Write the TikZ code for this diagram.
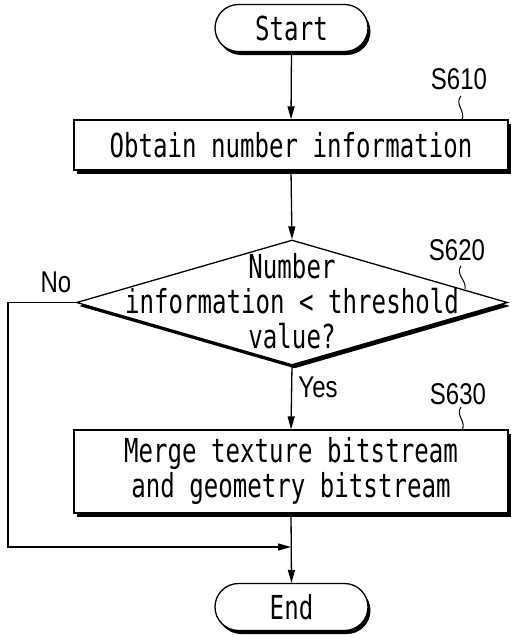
\documentclass[tikz,border=0pt]{standalone}
\usepackage{fontspec}
\newfontfamily\pfont[FakeStretch=0.73]{DejaVu Sans Mono}
\newfontfamily\lfont[FakeStretch=0.8]{Liberation Sans}
\usetikzlibrary{arrows.meta,shapes.geometric,shapes.misc,shadows}
\begin{document}
\begin{tikzpicture}[x=1pt,y=-1pt,
  line width=1.3pt,
  shadowed/.style={drop shadow={opacity=1,fill=black,shadow xshift=2.5pt,shadow yshift=-3.5pt}},
  txt/.style={font=\pfont\fontsize{33}{35}\selectfont, align=center},
  term/.style={rounded rectangle, draw, fill=white, shadowed, minimum width=153pt, minimum height=47pt, inner sep=0pt, txt},
  proc/.style={rectangle, draw, fill=white, shadowed, minimum width=434pt, inner sep=0pt, txt},
  dec/.style={diamond, draw, fill=white, shadowed, minimum width=431pt, minimum height=125pt, inner sep=0pt},
  lbl/.style={font=\lfont\fontsize{30}{32}\selectfont, inner sep=0pt},
  arr/.style={-{Triangle[length=13pt,width=7pt]}},
  sq/.style={line width=1pt},
]
\useasboundingbox (0,0) rectangle (511,637);

\node[term] (start) at (291.5,28) {Start};
\node[proc, minimum height=50pt] (p1) at (291,145) {Obtain number information};
\node[dec] (d) at (292,302.5) {};
\node[txt, inner sep=0pt] (dt) at (292,301) {Number\\information < threshold\\value?};
\node[proc, minimum height=83pt] (p2) at (291,471.5) {Merge texture bitstream\\and geometry bitstream};
\node[term] (end) at (291.5,607) {End};

\node[lbl] (s610) at (459,79) {S610};
\node[lbl] (s620) at (457,250) {S620};
\node[lbl] (s630) at (458,394) {S630};
\node[lbl] (no) at (56,282) {No};
\node[lbl] (yes) at (318,387) {Yes};

\coordinate (j) at (291,547);
\coordinate (c) at (8,547);

\draw[arr] (start.south) -- (p1.north);
\draw[arr] (p1.south) -- (d.north);
\draw[arr] (d.south) -- (p2.north);
\draw[arr] (p2.south) -- (end.north);
\draw[arr] (d.west) -| (c) -- (j);

\draw[sq] (461,96) .. controls (454,104) and (466,111) .. (462,120);
\draw[sq] (461,266) .. controls (455,274) and (467,281) .. (465,289);
\draw[sq] (461,407) .. controls (455,415) and (467,422) .. (462,430);
\end{tikzpicture}
\end{document}
